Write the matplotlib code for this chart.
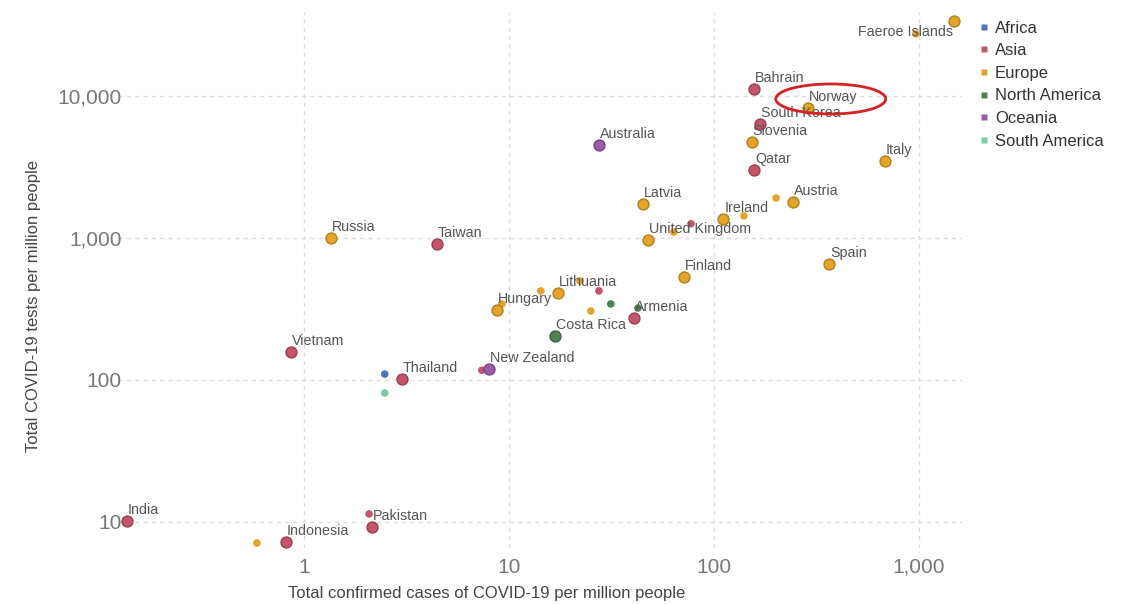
import matplotlib
matplotlib.use("Agg")
import matplotlib.pyplot as plt
from matplotlib import transforms
from matplotlib.lines import Line2D
from matplotlib.patches import Ellipse
from matplotlib.ticker import FixedLocator, FuncFormatter, NullLocator

plt.rcParams["font.family"] = ["Liberation Sans", "DejaVu Sans"]

# Country-level data: confirmed cases and tests, both per million people
labels = [
    "Faeroe Islands", "Bahrain", "Norway", "South Korea", "Slovenia", "Australia",
    "Italy", "Qatar", "Austria", "Latvia", "Ireland", "United Kingdom", "Russia",
    "Taiwan", "Spain", "Finland", "Lithuania", "Hungary", "Armenia", "Costa Rica",
    "Vietnam", "New Zealand", "Thailand", "India", "Pakistan", "Indonesia",
    "", "", "", "", "", "", "", "", "",
    "", "", "", "",
    "", "",
    "", "",
]
continent = [
    "Europe", "Asia", "Europe", "Asia", "Europe", "Oceania",
    "Europe", "Asia", "Europe", "Europe", "Europe", "Europe", "Europe",
    "Asia", "Europe", "Europe", "Europe", "Europe", "Asia", "North America",
    "Asia", "Oceania", "Asia", "Asia", "Asia", "Asia",
    "Europe", "Europe", "Europe", "Europe", "Europe", "Europe", "Europe", "Europe", "Europe",
    "Asia", "Asia", "Asia", "Asia",
    "North America", "North America",
    "Africa", "South America",
]
cases_per_million = [
    1482, 157, 287, 168, 153, 27.5,
    683, 157, 243, 45.1, 111, 47.6, 1.35,
    4.45, 364, 71.4, 17.3, 8.74, 40.7, 16.8,
    0.864, 7.99, 3.01, 0.137, 2.15, 0.817,
    967, 201, 140, 63.8, 22.2, 14.3, 9.25, 25.1, 0.59,
    77.3, 27.5, 7.38, 2.08,
    31.4, 42.6,
    2.48, 2.48,
]
tests_per_million = [
    33700, 11200, 8230, 6350, 4740, 4520,
    3480, 3010, 1790, 1730, 1360, 968, 1000,
    908, 656, 531, 410, 311, 274, 204,
    157, 119, 102, 10.2, 9.2, 7.23,
    27300, 1910, 1430, 1100, 498, 424, 343, 306, 7.11,
    1260, 424, 117, 11.4,
    343, 321,
    110, 81,
]

continents = ["Africa", "Asia", "Europe", "North America", "Oceania", "South America"]
colors = {
    "Africa": "#4f74b8",
    "Asia": "#c4566c",
    "Europe": "#e4a42c",
    "North America": "#4f8152",
    "Oceania": "#9a5caa",
    "South America": "#7fcaa0",
}
edges = {
    "Africa": "#3a5a92",
    "Asia": "#9c3e52",
    "Europe": "#b0801c",
    "North America": "#3a633d",
    "Oceania": "#764584",
    "South America": "#5fa07c",
}

x_ticks = [1, 10, 100, 1000]
y_ticks = [10, 100, 1000, 10000]

fig = plt.figure(figsize=(11.33, 6.04), dpi=100)
ax = fig.add_axes([0.10415, 0.09272, 0.7449, 0.8874])
ax.set_xscale("log")
ax.set_yscale("log")
ax.set_xlim(0.124, 1622)
ax.set_ylim(6.56, 39000)

for name, cont, x, y in zip(labels, continent, cases_per_million, tests_per_million):
    big = bool(name)
    ax.scatter([x], [y], s=62 if big else 30, color=colors[cont],
               edgecolors=edges[cont] if big else "none", linewidths=1.0,
               zorder=4 if big else 3, clip_on=False)
    if big:
        if name == "Faeroe Islands":
            ax.annotate(name, (x, y), xytext=(-1, -11), textcoords="offset pixels",
                        ha="right", va="center", fontsize=10.3, color="#555555", zorder=5)
        else:
            ax.annotate(name, (x, y), xytext=(1, 11), textcoords="offset pixels",
                        ha="left", va="center", fontsize=10.3, color="#555555", zorder=5)

# Axes styling: no frame, dashed light grid at decades
for s in ax.spines.values():
    s.set_visible(False)
ax.xaxis.set_major_locator(FixedLocator(x_ticks))
ax.yaxis.set_major_locator(FixedLocator(y_ticks))
ax.xaxis.set_minor_locator(NullLocator())
ax.yaxis.set_minor_locator(NullLocator())
fmt = FuncFormatter(lambda v, p: f"{v:,.0f}")
ax.xaxis.set_major_formatter(fmt)
ax.yaxis.set_major_formatter(fmt)
ax.tick_params(axis="both", length=0, labelsize=15, labelcolor="#777777")
ax.tick_params(axis="x", pad=7)
ax.tick_params(axis="y", pad=-2.5)
ax.grid(True, which="major", color="#dddddd", linestyle=(0, (3, 3)), linewidth=1)
ax.set_axisbelow(True)

ax.set_xlabel("Total confirmed cases of COVID-19 per million people",
              fontsize=12, color="#444444", ha="center", va="center")
ax.xaxis.set_label_coords(0.437, -0.084)
ax.set_ylabel("Total COVID-19 tests per million people",
              fontsize=12, color="#444444", ha="center", va="center")
ax.yaxis.set_label_coords(-0.1007, 0.451)

# Highlight ring around Norway
ni = labels.index("Norway")
ring_trans = fig.dpi_scale_trans + transforms.ScaledTranslation(
    cases_per_million[ni], tests_per_million[ni], ax.transData)
ax.add_patch(Ellipse((0.23, 0.09), 1.10, 0.30, transform=ring_trans,
                     fill=False, edgecolor="#d42027", linewidth=2, zorder=6,
                     clip_on=False))

handles = [Line2D([], [], marker="s", linestyle="none", markersize=4.5,
                  markerfacecolor=colors[c], markeredgecolor="none") for c in continents]
fig.legend(handles, continents, loc="upper left", bbox_to_anchor=(0.858, 0.977),
           frameon=False, fontsize=12, labelcolor="#333333", handlelength=0.6,
           handletextpad=0.36, labelspacing=0.456, borderaxespad=0)

fig.savefig("out.png", dpi=100)
